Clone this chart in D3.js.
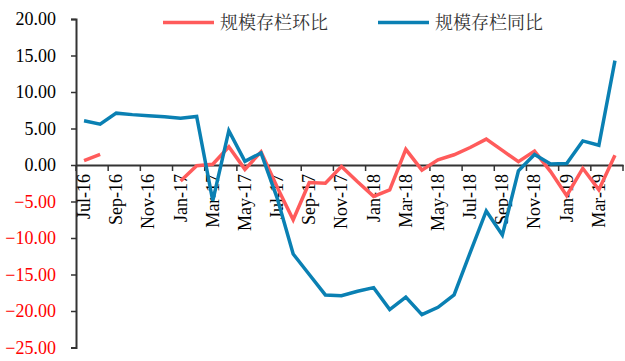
<!DOCTYPE html>
<html>
<head>
<meta charset="utf-8">
<script src="https://cdn.jsdelivr.net/npm/d3@7/dist/d3.min.js"></script>
<style>
  html, body { margin: 0; padding: 0; background: #fff; }
  svg { display: block; }
</style>
</head>
<body>
<svg id="chart" width="625" height="361"></svg>
<script>
// Monthly categories, Jul-16 .. Apr-19
const months = ["Jul-16","Aug-16","Sep-16","Oct-16","Nov-16","Dec-16",
  "Jan-17","Feb-17","Mar-17","Apr-17","May-17","Jun-17","Jul-17","Aug-17","Sep-17","Oct-17","Nov-17","Dec-17",
  "Jan-18","Feb-18","Mar-18","Apr-18","May-18","Jun-18","Jul-18","Aug-18","Sep-18","Oct-18","Nov-18","Dec-18",
  "Jan-19","Feb-19","Mar-19","Apr-19"];

// 规模存栏环比 (month-on-month, %), null = no data
const momValues = [0.6, 1.45, null, null, null, null,
  -2.2, -0.1, 0.1, 2.5, -0.6, 1.8, -3.0, -7.5, -2.4, -2.5, -0.2, -2.3,
  -4.3, -3.4, 2.15, -0.7, 0.7, 1.4, 2.4, 3.55, 2.0, 0.45, 1.9, -0.9,
  -4.2, -0.45, -3.4, 1.35];

// 规模存栏同比 (year-on-year, %)
const yoyValues = [6.05, 5.6, 7.1, 6.9, 6.75, 6.6,
  6.4, 6.65, -4.9, 4.7, 0.5, 1.65, -4.5, -12.2, -15.0, -17.8, -17.9, -17.3,
  -16.8, -19.8, -18.1, -20.5, -19.5, -17.8, -12.0, -6.3, -9.6, -0.8, 1.45, 0.15,
  0.2, 3.3, 2.7, 14.3];

const yTicks = [20, 15, 10, 5, 0, -5, -10, -15, -20, -25];
const seriesNames = ["规模存栏环比", "规模存栏同比"];
const seriesColors = ["#FF5B5B", "#0A80B3"];

const svg = d3.select("#chart");
const plotLeft = 76, plotRight = 623, plotTop = 19, plotBottom = 347.5;

const x = d3.scaleBand().domain(months).range([plotLeft, plotRight]).padding(0);
const y = d3.scaleLinear().domain([-25, 20]).range([plotBottom, plotTop]);

const axisColor = "#333";
const serif = '"Liberation Serif", "Times New Roman", serif';

// Y axis
const yAxis = d3.axisLeft(y).tickValues(yTicks).tickSize(5)
  .tickFormat(d => d3.format(".2f")(d));
const gy = svg.append("g").attr("transform", `translate(${plotLeft},0)`).call(yAxis);
gy.select(".domain").attr("stroke", axisColor).attr("stroke-width", 2);
gy.selectAll(".tick line").attr("stroke", axisColor).attr("stroke-width", 1.5);
gy.selectAll(".tick text")
  .attr("x", -20)
  .style("font-family", serif)
  .style("font-size", "18px")
  .attr("fill", d => d < 0 ? "#FF0000" : "#000");

// X axis along zero, labels every second month, rotated
const xAxis = d3.axisBottom(x)
  .tickValues(months.filter((m, i) => i % 2 === 0))
  .tickSize(0).tickPadding(0);
const gx = svg.append("g").attr("transform", `translate(0,${y(0)})`).call(xAxis);
gx.select(".domain").attr("stroke", axisColor).attr("stroke-width", 2);
gx.selectAll(".tick text")
  .style("font-family", serif)
  .style("font-size", "18px")
  .attr("fill", "#000")
  .attr("text-anchor", "end")
  .attr("dy", "0.33em")
  .attr("transform", "translate(0,9) rotate(-90)")
  .attr("x", 0).attr("y", 0);

// Category boundary tick marks every two months
const boundaries = d3.range(0, months.length + 1, 2);
const bx = i => i < months.length ? x(months[i]) : x(months[months.length - 1]) + x.bandwidth();
svg.append("g").selectAll("line").data(boundaries).join("line")
  .attr("x1", bx).attr("x2", bx)
  .attr("y1", y(0)).attr("y2", y(0) + 6)
  .attr("stroke", axisColor).attr("stroke-width", 1.5);

// Series lines
const line = d3.line()
  .defined(d => d.v !== null)
  .x(d => x(d.m) + x.bandwidth() / 2)
  .y(d => y(d.v));

[momValues, yoyValues].forEach((vals, k) => {
  svg.append("path")
    .datum(months.map((m, i) => ({ m, v: vals[i] })))
    .attr("fill", "none")
    .attr("stroke", seriesColors[k])
    .attr("stroke-width", 3.5)
    .attr("stroke-linejoin", "miter")
    .attr("d", line);
});

// Legend
const legendX = [163, 378];
const legend = svg.append("g");
seriesNames.forEach((name, k) => {
  legend.append("line")
    .attr("x1", legendX[k]).attr("x2", legendX[k] + 51)
    .attr("y1", 22.5).attr("y2", 22.5)
    .attr("stroke", seriesColors[k]).attr("stroke-width", 3.5);
  legend.append("text")
    .attr("x", legendX[k] + 57).attr("y", 22.5).attr("dy", "0.36em")
    .style("font-family", '"Noto Serif CJK SC", "Noto Sans CJK SC", serif')
    .style("font-size", "18px")
    .attr("fill", "#333")
    .text(name);
});
</script>
</body>
</html>
